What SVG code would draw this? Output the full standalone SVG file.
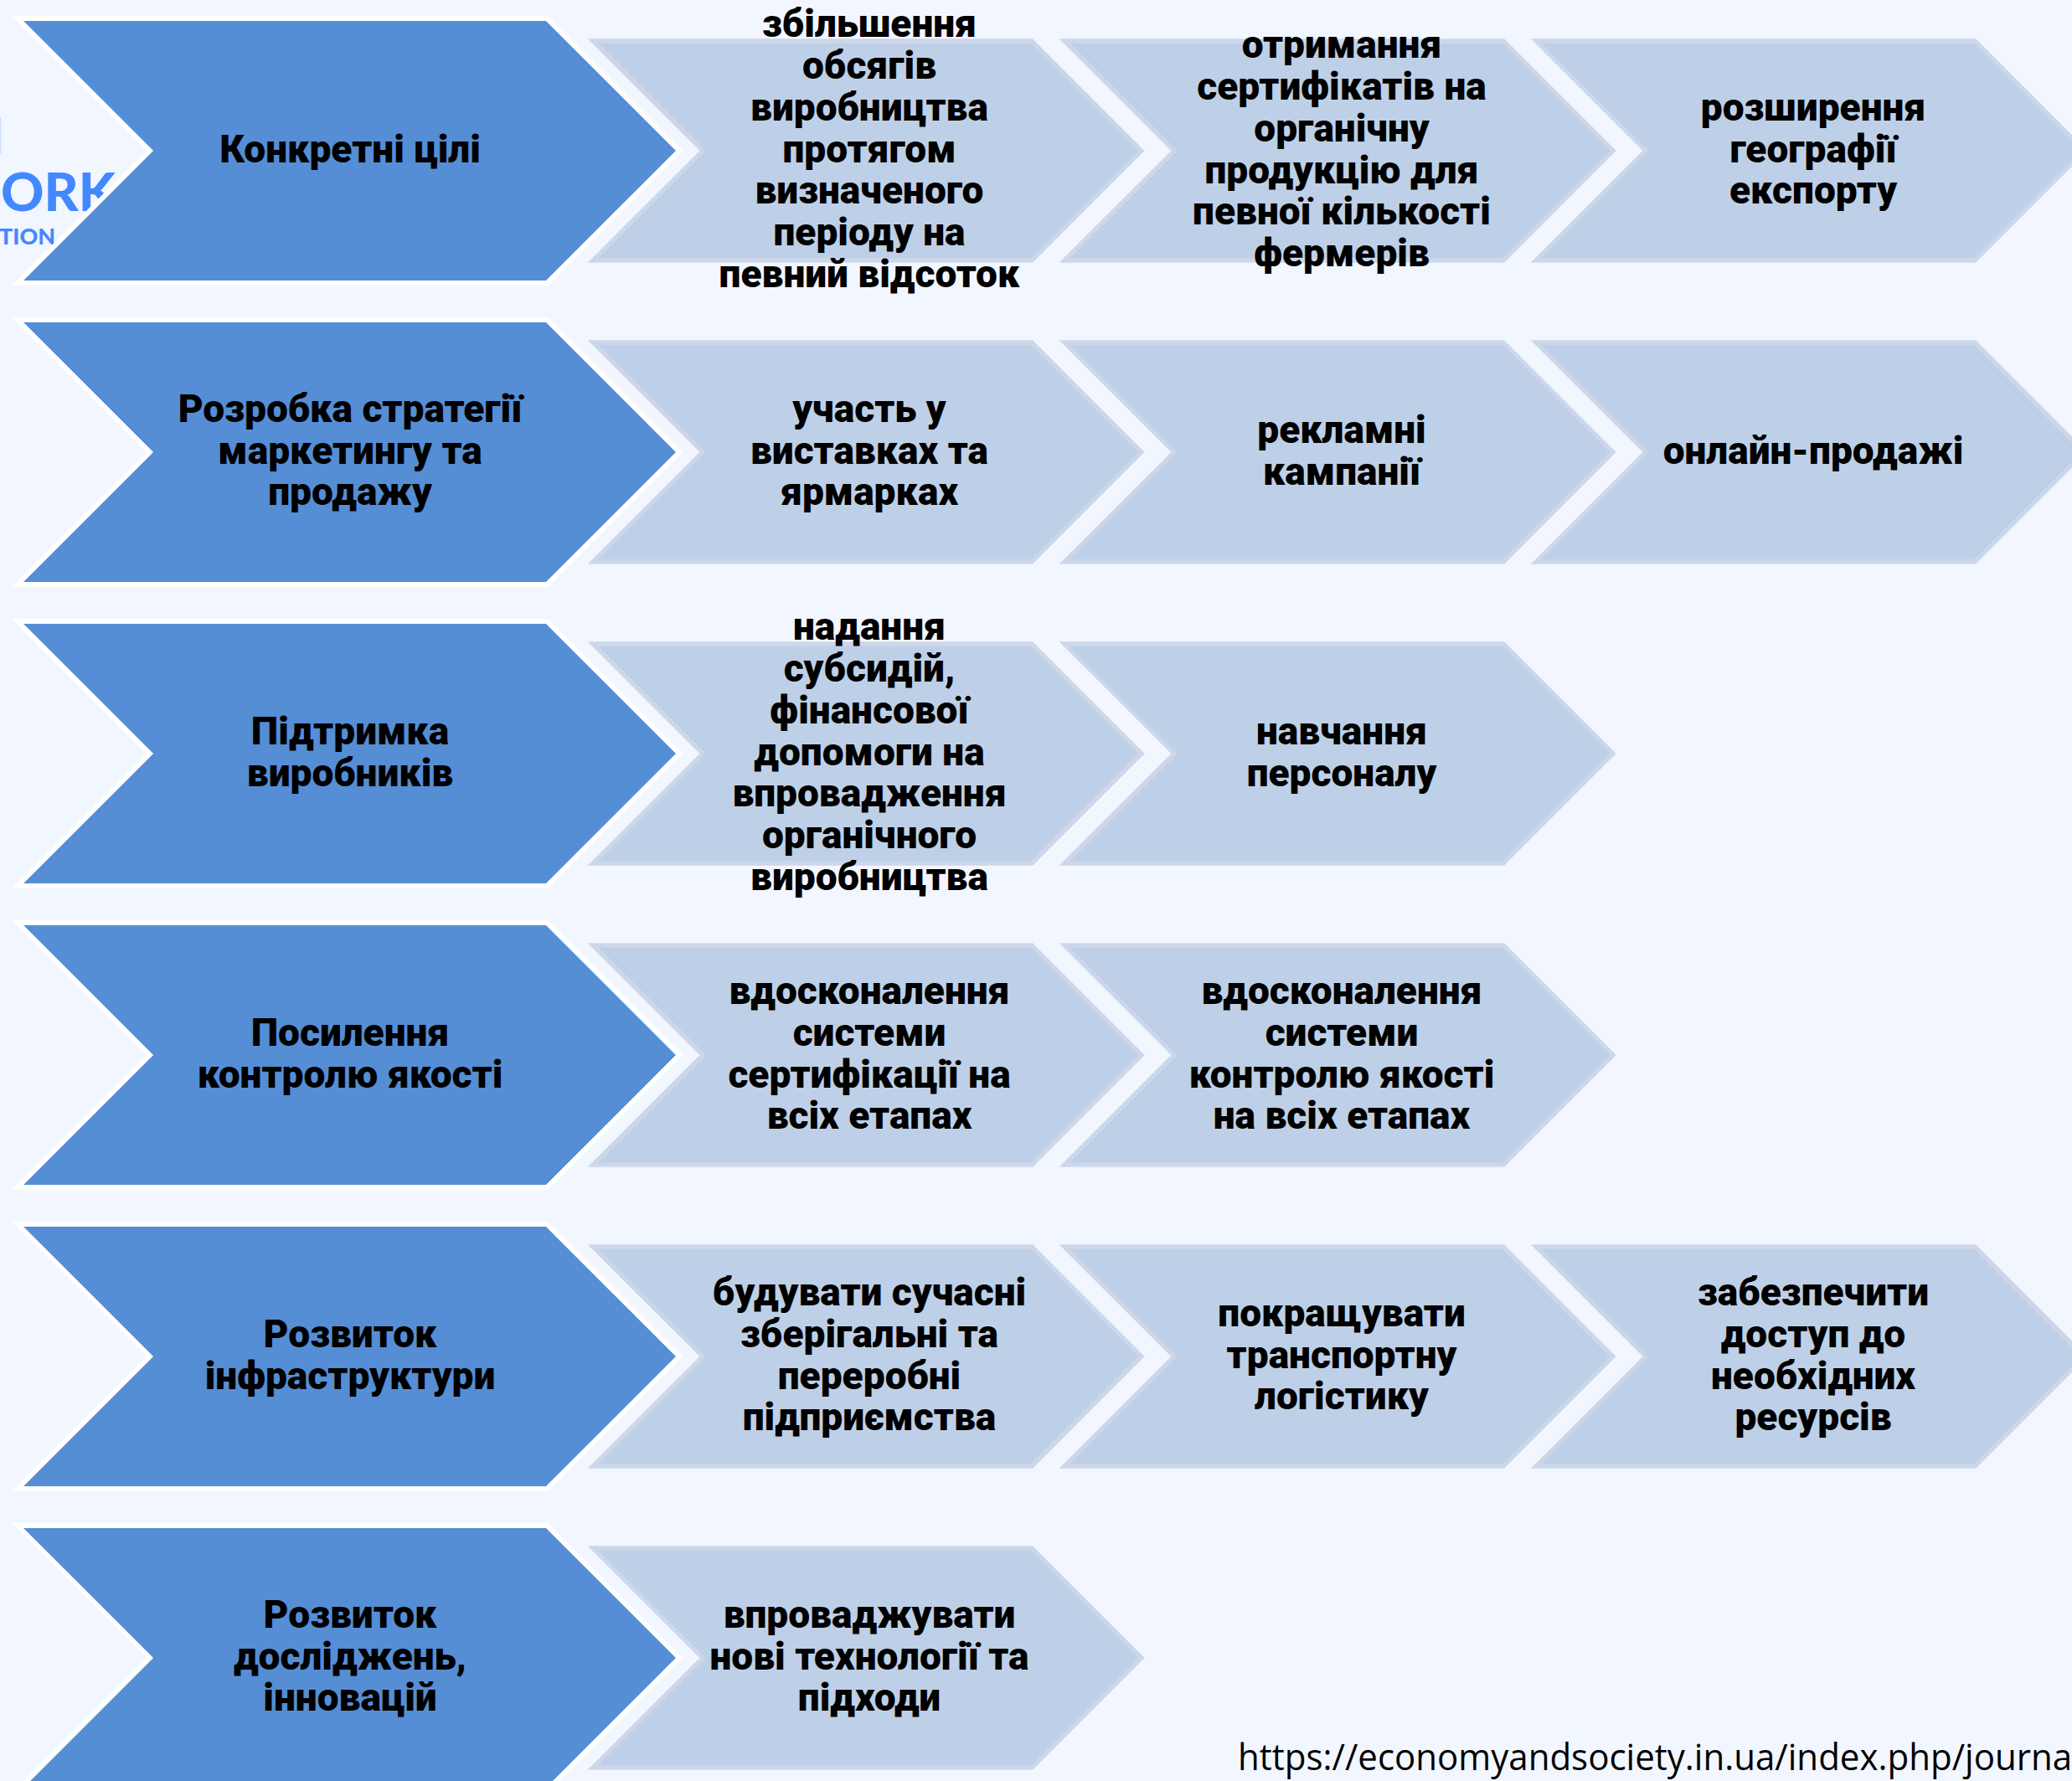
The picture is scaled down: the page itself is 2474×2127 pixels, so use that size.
<svg xmlns="http://www.w3.org/2000/svg" width="2474" height="2127" viewBox="0 0 2474 2127">
<defs>
<path id="big" d="M21 -158H653L811 0L653 158H21L179 0Z"/>
<path id="small" d="M-131 -131H393L524 0L393 131H-131L0 0Z"/>
</defs>
<style>
.b{fill:#558ed5;stroke:#fff;stroke-width:5.8}
.s{fill:#bed0e7;stroke:#cdd7e9;stroke-width:5.3}
text{font-family:"Roboto","Liberation Sans",sans-serif;font-weight:900;font-size:47px;fill:#000;text-anchor:middle}
.logo{font-family:"Lato","Open Sans",sans-serif;font-weight:900;fill:#4488ff;text-anchor:start}
.u{font-family:"Open Sans","Liberation Sans",sans-serif;font-weight:400;font-size:43px;text-anchor:start}
</style>
<rect width="2474" height="2127" fill="#f2f6ff"/>
<g id="logo"><rect x="0" y="140" width="1.5" height="44" fill="#cfe0ff"/>
<text class="logo" x="1" y="252" style="font-size:62px" textLength="137" lengthAdjust="spacingAndGlyphs">ORK</text>
<text class="logo" x="-1" y="292" style="font-size:26px" textLength="67" lengthAdjust="spacingAndGlyphs">TION</text></g>
<g id="n1"><use href="#big" y="180" class="b"/><g transform="translate(418 193.5) scale(.98 1)"><text y="0">Конкретні цілі</text></g></g>
<g id="n1a"><use href="#small" x="839" y="180" class="s"/><g transform="translate(1038 193.5) scale(.98 1)"><text y="-150">збільшення</text><text y="-100">обсягів</text><text y="-50">виробництва</text><text y="0">протягом</text><text y="50">визначеного</text><text y="100">періоду на</text><text y="150">певний відсоток</text></g></g>
<g id="n1b"><use href="#small" x="1402" y="180" class="s"/><g transform="translate(1602 193.5) scale(.98 1)"><text y="-125">отримання</text><text y="-75">сертифікатів на</text><text y="-25">органічну</text><text y="25">продукцію для</text><text y="75">певної кількості</text><text y="125">фермерів</text></g></g>
<g id="n1c"><use href="#small" x="1965" y="180" class="s"/><g transform="translate(2165 193.5) scale(.98 1)"><text y="-50">розширення</text><text y="0">географії</text><text y="50">експорту</text></g></g>
<g id="n2"><use href="#big" y="540" class="b"/><g transform="translate(418 553.5) scale(.98 1)"><text y="-50">Розробка стратегії</text><text y="0">маркетингу та</text><text y="50">продажу</text></g></g>
<g id="n2a"><use href="#small" x="839" y="540" class="s"/><g transform="translate(1038 553.5) scale(.98 1)"><text y="-50">участь у</text><text y="0">виставках та</text><text y="50">ярмарках</text></g></g>
<g id="n2b"><use href="#small" x="1402" y="540" class="s"/><g transform="translate(1602 553.5) scale(.98 1)"><text y="-25">рекламні</text><text y="25">кампанії</text></g></g>
<g id="n2c"><use href="#small" x="1965" y="540" class="s"/><g transform="translate(2165 553.5) scale(.98 1)"><text y="0">онлайн-продажі</text></g></g>
<g id="n3"><use href="#big" y="900" class="b"/><g transform="translate(418 913.5) scale(.98 1)"><text y="-25">Підтримка</text><text y="25">виробників</text></g></g>
<g id="n3a"><use href="#small" x="839" y="900" class="s"/><g transform="translate(1038 913.5) scale(.98 1)"><text y="-150">надання</text><text y="-100">субсидій,</text><text y="-50">фінансової</text><text y="0">допомоги на</text><text y="50">впровадження</text><text y="100">органічного</text><text y="150">виробництва</text></g></g>
<g id="n3b"><use href="#small" x="1402" y="900" class="s"/><g transform="translate(1602 913.5) scale(.98 1)"><text y="-25">навчання</text><text y="25">персоналу</text></g></g>
<g id="n4"><use href="#big" y="1260" class="b"/><g transform="translate(418 1273.5) scale(.98 1)"><text y="-25">Посилення</text><text y="25">контролю якості</text></g></g>
<g id="n4a"><use href="#small" x="839" y="1260" class="s"/><g transform="translate(1038 1273.5) scale(.98 1)"><text y="-75">вдосконалення</text><text y="-25">системи</text><text y="25">сертифікації на</text><text y="75">всіх етапах</text></g></g>
<g id="n4b"><use href="#small" x="1402" y="1260" class="s"/><g transform="translate(1602 1273.5) scale(.98 1)"><text y="-75">вдосконалення</text><text y="-25">системи</text><text y="25">контролю якості</text><text y="75">на всіх етапах</text></g></g>
<g id="n5"><use href="#big" y="1620" class="b"/><g transform="translate(418 1633.5) scale(.98 1)"><text y="-25">Розвиток</text><text y="25">інфраструктури</text></g></g>
<g id="n5a"><use href="#small" x="839" y="1620" class="s"/><g transform="translate(1038 1633.5) scale(.98 1)"><text y="-75">будувати сучасні</text><text y="-25">зберігальні та</text><text y="25">переробні</text><text y="75">підприємства</text></g></g>
<g id="n5b"><use href="#small" x="1402" y="1620" class="s"/><g transform="translate(1602 1633.5) scale(.98 1)"><text y="-50">покращувати</text><text y="0">транспортну</text><text y="50">логістику</text></g></g>
<g id="n5c"><use href="#small" x="1965" y="1620" class="s"/><g transform="translate(2165 1633.5) scale(.98 1)"><text y="-75">забезпечити</text><text y="-25">доступ до</text><text y="25">необхідних</text><text y="75">ресурсів</text></g></g>
<g id="n6"><use href="#big" y="1980" class="b"/><g transform="translate(418 1993.5) scale(.98 1)"><text y="-50">Розвиток</text><text y="0">досліджень,</text><text y="50">інновацій</text></g></g>
<g id="n6a"><use href="#small" x="839" y="1980" class="s"/><g transform="translate(1038 1993.5) scale(.98 1)"><text y="-50">впроваджувати</text><text y="0">нові технології та</text><text y="50">підходи</text></g></g>
<text class="u" x="1478" y="2114" textLength="996" lengthAdjust="spacingAndGlyphs">https://economyandsociety.in.ua/index.php/journa</text>
</svg>
